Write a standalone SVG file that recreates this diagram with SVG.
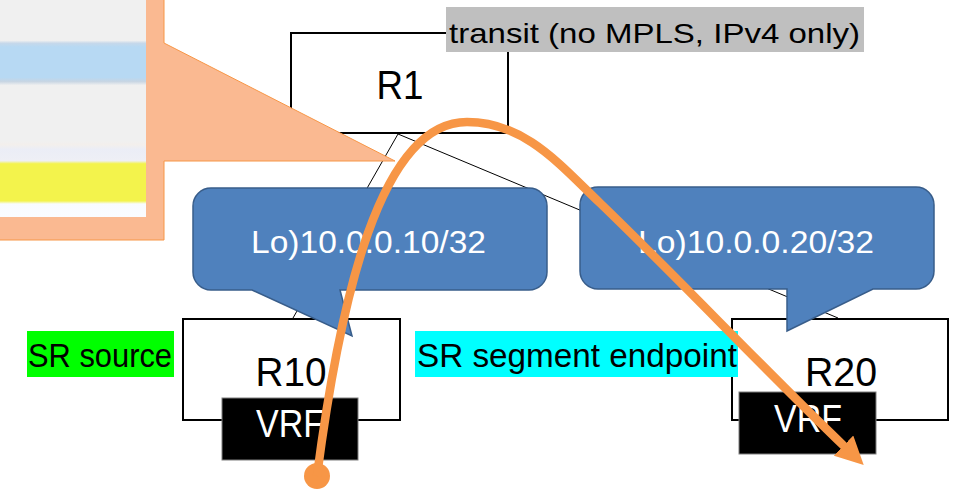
<svg xmlns="http://www.w3.org/2000/svg" width="955" height="489" viewBox="0 0 955 489">
  <defs>
    <style>
      text { font-family: "Liberation Sans", Arial, sans-serif; }
      .box { fill: #ffffff; stroke: #000000; stroke-width: 2; }
      .vrf { fill: #000000; stroke: #7f7f7f; stroke-width: 1; }
      .link { stroke: #000000; stroke-width: 1; fill: none; }
      .router { font-size: 40px; fill: #000000; text-anchor: middle; }
      .vrf-label { font-size: 38px; fill: #ffffff; text-anchor: middle; }
      .tag { font-size: 33px; fill: #000000; }
      .bubble { fill: #4f81bd; stroke: #385d8a; stroke-width: 1.5; }
      .bubble-label { font-size: 32px; fill: #ffffff; }
      .flow { fill: none; stroke: #f79646; stroke-width: 8.5; }
    </style>
    <linearGradient id="panelStripes" x1="0" y1="0" x2="0" y2="1">
      <stop offset="0" stop-color="#f0f0f0"/>
      <stop offset="0.190" stop-color="#f0f0f0"/>
      <stop offset="0.203" stop-color="#c6d8ea"/>
      <stop offset="0.220" stop-color="#b7d9f3"/>
      <stop offset="0.360" stop-color="#b7d9f3"/>
      <stop offset="0.378" stop-color="#c7d5e3"/>
      <stop offset="0.396" stop-color="#f0f0f0"/>
      <stop offset="0.650" stop-color="#f0f0f0"/>
      <stop offset="0.668" stop-color="#f3efec"/>
      <stop offset="0.690" stop-color="#ebedf6"/>
      <stop offset="0.742" stop-color="#eeeff5"/>
      <stop offset="0.756" stop-color="#f3f34c"/>
      <stop offset="0.926" stop-color="#f3f34c"/>
      <stop offset="0.940" stop-color="#f8fbff"/>
      <stop offset="1" stop-color="#fafcff"/>
    </linearGradient>
    <marker id="arrowHead" markerUnits="userSpaceOnUse" viewBox="0 0 28 28" markerWidth="28" markerHeight="28" refX="2" refY="14" orient="auto">
      <path d="M0,0 L28,14 L0,28 Z" fill="#f79646"/>
    </marker>
  </defs>

  <!-- thin physical links between routers -->
  <g id="links">
    <line class="link" x1="398" y1="134" x2="293" y2="318"/>
    <line class="link" x1="398" y1="134" x2="838" y2="318"/>
  </g>

  <g id="R1">
    <rect class="box" x="291" y="33" width="217" height="100"/>
    <text class="router" x="400" y="99" font-size="42" textLength="47" lengthAdjust="spacingAndGlyphs">R1</text>
  </g>

  <g id="R10">
    <rect class="box" x="183" y="319" width="217" height="101"/>
    <text class="router" x="291" y="386" textLength="71" lengthAdjust="spacingAndGlyphs">R10</text>
    <rect class="vrf" x="222" y="398" width="136" height="62"/>
    <text class="vrf-label" x="290" y="437" textLength="68" lengthAdjust="spacingAndGlyphs">VRF</text>
  </g>

  <g id="R20">
    <rect class="box" x="732" y="319" width="216" height="101"/>
    <text class="router" x="841" y="386" textLength="72" lengthAdjust="spacingAndGlyphs">R20</text>
    <rect class="vrf" x="739" y="392" width="137" height="62"/>
    <text class="vrf-label" x="808" y="432" textLength="68" lengthAdjust="spacingAndGlyphs">VRF</text>
  </g>

  <g id="transit-label">
    <rect x="446" y="7" width="418" height="45" fill="#bfbfbf"/>
    <text x="449" y="43" font-size="28" fill="#000000" textLength="411" lengthAdjust="spacingAndGlyphs">transit (no MPLS, IPv4 only)</text>
  </g>

  <!-- excerpt callout pointing at R1 -->
  <g id="excerpt">
    <path d="M-10,-10 H164 V43 L395,161 H164 V240 H-10 Z" fill="#fab991" stroke="#f79646" stroke-width="1"/>
    <rect x="-1" y="-1" width="147" height="218" fill="url(#panelStripes)"/>
  </g>

  <g id="lo-R10">
    <path class="bubble" d="M211,188 H529 A18,18 0 0 1 547,206 V272 A18,18 0 0 1 529,290 H340 L352,336 L252,290 H211 A18,18 0 0 1 193,272 V206 A18,18 0 0 1 211,188 Z"/>
    <text class="bubble-label" x="251" y="253" textLength="235" lengthAdjust="spacingAndGlyphs">Lo)10.0.0.10/32</text>
  </g>

  <g id="lo-R20">
    <path class="bubble" d="M598,187 H916 A18,18 0 0 1 934,205 V271 A18,18 0 0 1 916,289 H873 L787,331 V289 H598 A18,18 0 0 1 580,271 V205 A18,18 0 0 1 598,187 Z"/>
    <text class="bubble-label" x="638" y="253" textLength="236" lengthAdjust="spacingAndGlyphs">Lo)10.0.0.20/32</text>
  </g>

  <g id="sr-source">
    <rect x="27" y="331" width="147" height="46" fill="#00ff00"/>
    <text class="tag" x="28" y="367" textLength="144" lengthAdjust="spacingAndGlyphs">SR source</text>
  </g>

  <g id="sr-endpoint">
    <rect x="415" y="331" width="323" height="46" fill="#00ffff"/>
    <text class="tag" x="417" y="367" textLength="320" lengthAdjust="spacingAndGlyphs">SR segment endpoint</text>
  </g>

  <!-- SR traffic path from R10 VRF over R1 to R20 VRF -->
  <g id="sr-path">
    <circle cx="317" cy="476" r="13" fill="#f79646"/>
    <path class="flow" d="M317,476 C340,300 380,122 467,122 C525,122 560,165 600,203 C680,280 760,365 845,447" marker-end="url(#arrowHead)"/>
  </g>
</svg>
